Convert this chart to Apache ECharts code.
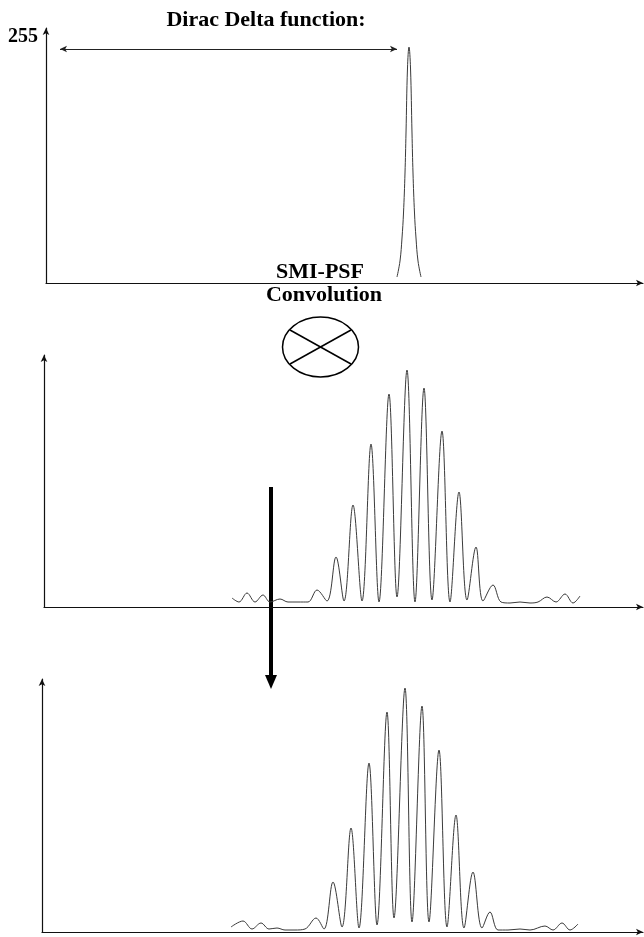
<!DOCTYPE html>
<html>
<head>
<meta charset="utf-8">
<script src="https://cdn.jsdelivr.net/npm/echarts@6/dist/echarts.min.js"></script>
<style>
html,body{margin:0;padding:0;background:#fff;}
#chart{width:644px;height:937px;}
</style>
</head>
<body>
<div id="chart"></div>
<script>
// ---- data (x = scan column, y = intensity) ----
const yTickLabels = ['255'];
const titleText = 'Dirac Delta function:';
const labelTop = 'SMI-PSF';
const labelBottom = 'Convolution';

// Dirac delta (top panel)
const deltaX = [397, 400, 402, 403.5, 405, 406, 407.5, 409, 410.5, 412, 413, 414.5, 416, 418, 421];
const deltaY = [6, 22, 45, 70, 110, 150, 215, 236, 215, 150, 110, 70, 45, 22, 6];

// SMI-PSF (middle panel)
const psfX = [232, 239, 247, 255, 263, 270, 280, 288, 298, 308, 317, 327, 336, 344, 353, 362, 371, 379, 389, 397, 407, 415, 424, 432, 442, 450, 459, 467, 476, 483, 493, 501, 510, 520, 530, 538, 547, 556, 565, 573, 580];
const psfY = [9, 5, 14, 5, 12, 5, 8, 5, 5, 5, 17, 6, 50, 6, 102, 6, 163, 5, 213, 10, 237, 5, 219, 7, 176, 5, 115, 7, 60, 6, 22, 5, 4, 5, 4, 5, 10, 5, 13, 4, 11];

// Convolution result (bottom panel)
const convX = [231, 243, 252, 261, 269, 277, 285, 295, 305, 316, 324, 333, 342, 351, 359, 369, 377, 387, 394, 405, 412, 422, 429, 439, 447, 456, 464, 473, 482, 490, 498, 508, 520, 530, 545, 553, 562, 570, 578];
const convY = [5, 11, 3, 9, 3, 4, 2, 2, 3, 14, 3, 50, 5, 104, 4, 169, 7, 220, 14, 244, 10, 226, 10, 182, 5, 117, 4, 60, 4, 20, 2, 2, 3, 2, 6, 2, 9, 2, 8];

// distance marker in top panel (from axis to peak)
const markerFrom = [60, 234];
const markerTo = [397, 234];

const zip = (xs, ys) => xs.map((x, i) => [x, ys[i]]);

const serif = '"Liberation Serif", "DejaVu Serif", serif';
const axisColor = '#111';
const curveColor = '#3a3a3a';

function xAxisDef(idx, min) {
  return {
    type: 'value', gridIndex: idx, min: min, max: 643,
    axisLine: { show: true, onZero: false, lineStyle: { color: axisColor, width: 1.2 }, symbol: ['none', 'arrow'], symbolSize: [5, 7] },
    axisTick: { show: false }, axisLabel: { show: false }, splitLine: { show: false }
  };
}
function yAxisDef(idx, max, labels) {
  return {
    type: 'value', gridIndex: idx, min: 0, max: max, interval: max,
    axisLine: { show: true, onZero: false, lineStyle: { color: axisColor, width: 1.2 }, symbol: ['none', 'arrow'], symbolSize: [5, 7] },
    axisTick: { show: false }, splitLine: { show: false },
    axisLabel: {
      show: labels, margin: 8, color: '#000',
      fontFamily: serif, fontWeight: 'bold', fontSize: 20,
      verticalAlign: 'top', padding: [-1, 0, 0, 0],
      formatter: v => (v === max ? yTickLabels[0] : '')
    }
  };
}

const chart = echarts.init(document.getElementById('chart'), null, { renderer: 'canvas' });
chart.setOption({
  animation: false,
  backgroundColor: '#fff',
  grid: [
    { left: 46, top: 28, width: 597, height: 255 },
    { left: 44, top: 355, width: 599, height: 252 },
    { left: 42, top: 679, width: 601, height: 253 }
  ],
  xAxis: [xAxisDef(0, 46), xAxisDef(1, 44), xAxisDef(2, 42)],
  yAxis: [yAxisDef(0, 255, true), yAxisDef(1, 252, false), yAxisDef(2, 253, false)],
  series: [
    {
      type: 'line', xAxisIndex: 0, yAxisIndex: 0, data: zip(deltaX, deltaY),
      showSymbol: false, smooth: 0.4, lineStyle: { color: curveColor, width: 1 },
      markLine: {
        silent: true, symbol: ['arrow', 'arrow'], symbolSize: [5, 7],
        lineStyle: { color: '#222', width: 1, type: 'solid' },
        label: { show: false },
        data: [[{ coord: markerFrom }, { coord: markerTo }]]
      }
    },
    {
      type: 'line', xAxisIndex: 1, yAxisIndex: 1, data: zip(psfX, psfY),
      showSymbol: false, smooth: 0.35, lineStyle: { color: curveColor, width: 1 }
    },
    {
      type: 'line', xAxisIndex: 2, yAxisIndex: 2, data: zip(convX, convY),
      showSymbol: false, smooth: 0.35, lineStyle: { color: curveColor, width: 1 }
    }
  ],
  graphic: [
    { type: 'text', x: 266, y: 20, style: { text: titleText, font: 'bold 22px ' + serif, fill: '#000', textAlign: 'center', textVerticalAlign: 'middle' } },
    { type: 'text', x: 320, y: 272, style: { text: labelTop, font: 'bold 22px ' + serif, fill: '#000', textAlign: 'center', textVerticalAlign: 'middle' } },
    { type: 'text', x: 324, y: 295, style: { text: labelBottom, font: 'bold 22px ' + serif, fill: '#000', textAlign: 'center', textVerticalAlign: 'middle' } },
    { type: 'ellipse', shape: { cx: 320.5, cy: 347, rx: 38, ry: 30 }, style: { fill: 'none', stroke: '#000', lineWidth: 1.5 } },
    { type: 'line', shape: { x1: 290, y1: 330, x2: 351, y2: 364 }, style: { stroke: '#000', lineWidth: 1.5 } },
    { type: 'line', shape: { x1: 351, y1: 330, x2: 290, y2: 364 }, style: { stroke: '#000', lineWidth: 1.5 } },
    { type: 'rect', shape: { x: 269, y: 487, width: 4, height: 190 }, style: { fill: '#000' } },
    { type: 'polygon', shape: { points: [[265, 675], [277, 675], [271, 689]] }, style: { fill: '#000' } }
  ]
});
</script>
</body>
</html>
